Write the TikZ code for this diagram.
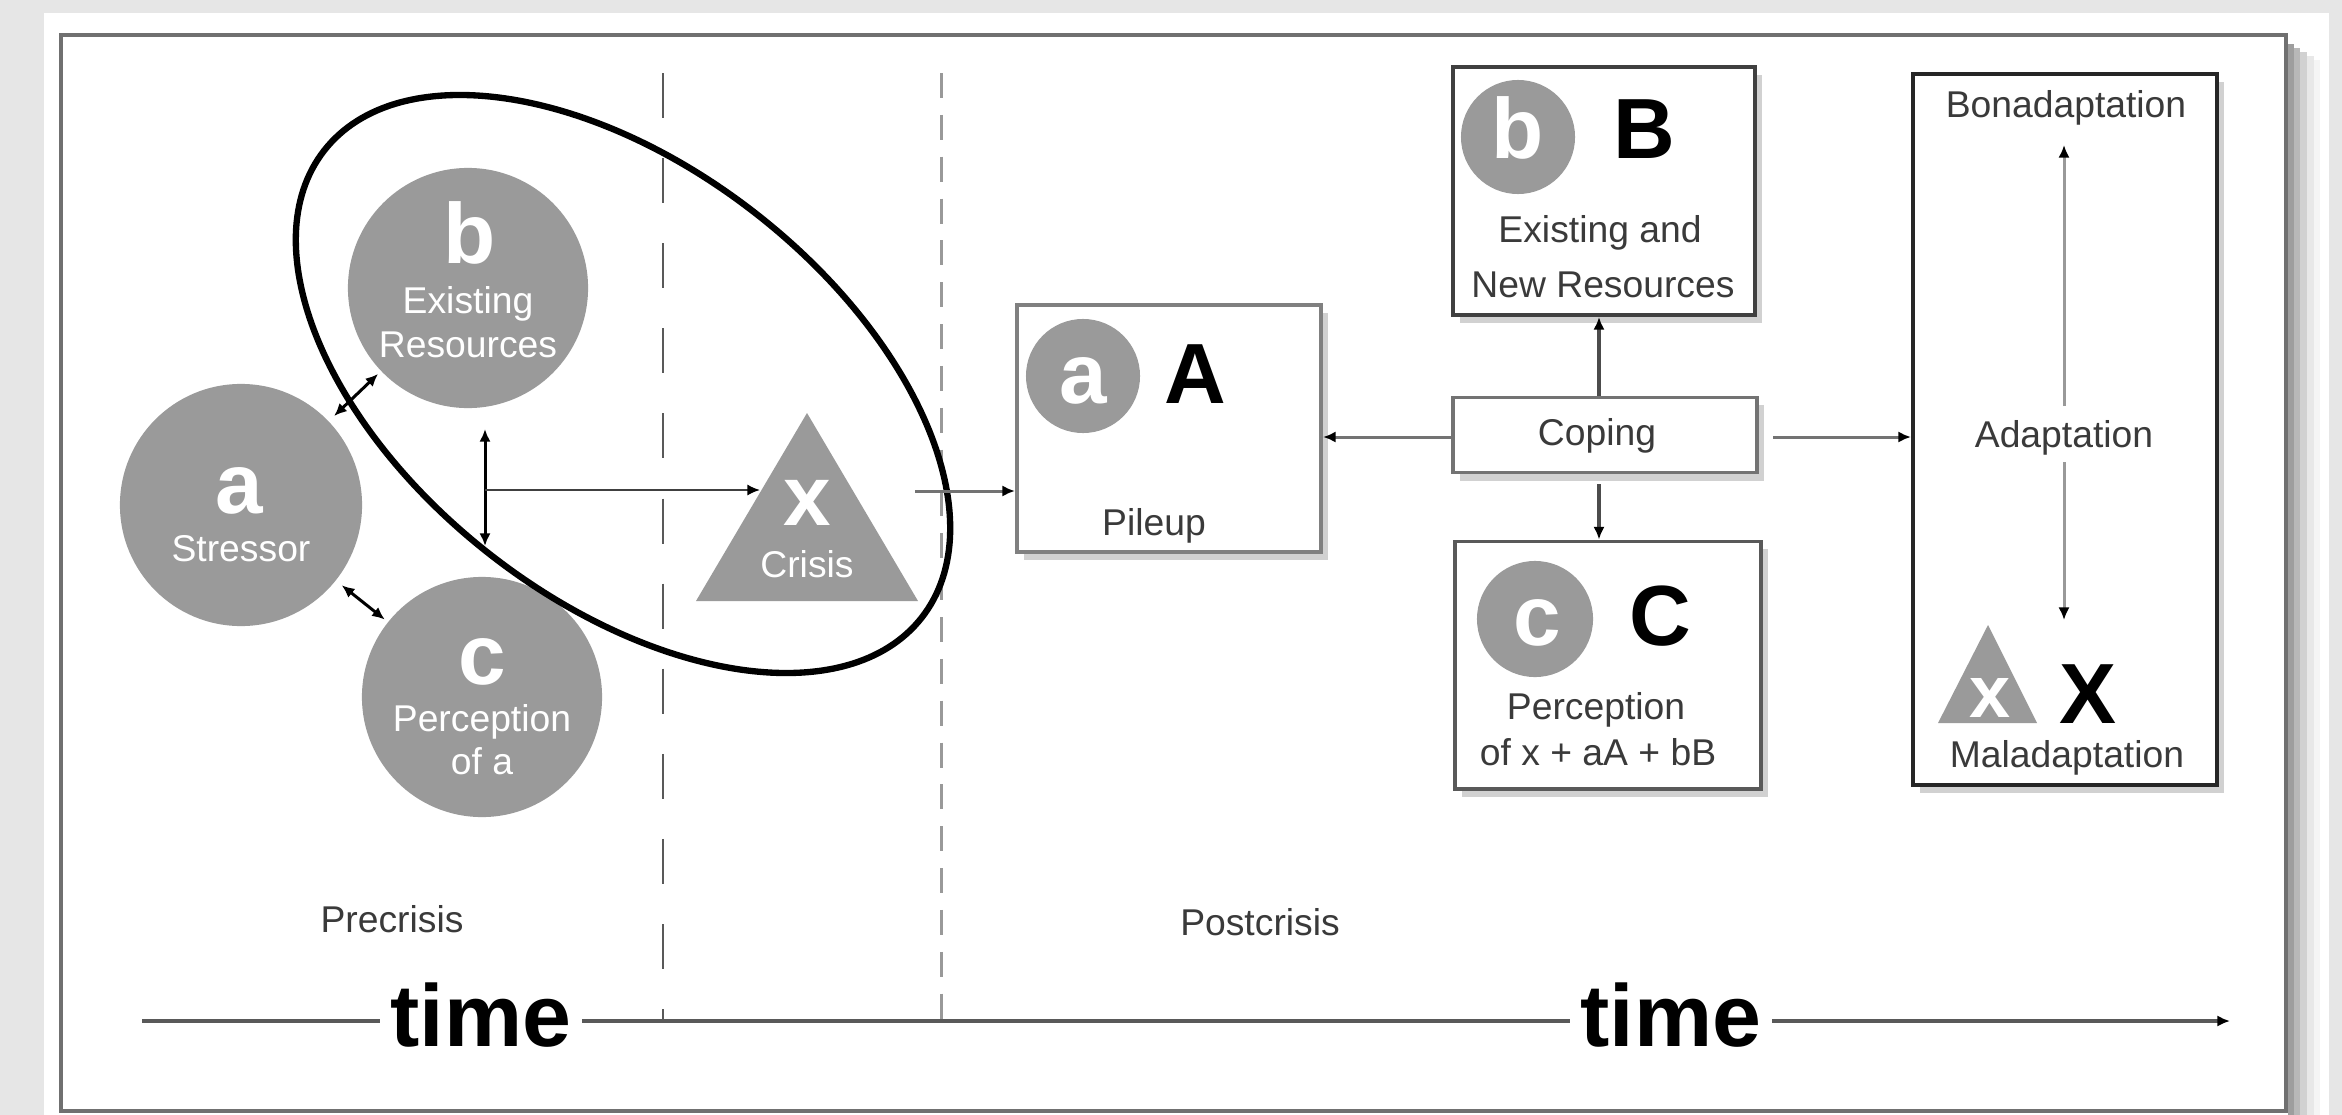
\documentclass[tikz,border=0pt]{standalone}
\usepackage{fontspec}
\setmainfont{Liberation Sans}
\usetikzlibrary{arrows.meta,shadows,calc}
\definecolor{bgc}{HTML}{E6E6E6}
\definecolor{cg}{HTML}{9A9A9A}
\definecolor{tg}{HTML}{3A3A3A}
\definecolor{fr}{HTML}{707070}
\newcommand\bigf{\fontsize{24.3}{28}\selectfont\bfseries}
\newcommand\smallbigf{\fontsize{21}{24}\selectfont\bfseries}
\newcommand\lblf{\fontsize{10.6}{12.7}\selectfont}
\newcommand\timef{\fontsize{25}{30}\selectfont\bfseries}
\begin{document}
\begin{tikzpicture}[x=0.01cm,y=-0.01cm,
  gcirc/.style={circle,fill=cg,draw=none,inner sep=0pt,minimum size=#1},
  bigw/.style={font=\bigf,text=white,anchor=base,inner sep=0pt},
  bigk/.style={font=\bigf,text=black,anchor=base,inner sep=0pt},
  lblw/.style={font=\lblf,text=white,anchor=base,inner sep=0pt},
  lbl/.style={font=\lblf,text=tg,anchor=base,inner sep=0pt},
  boxs/.style={rectangle,draw=#1,line width=1.1pt,fill=white,inner sep=0pt,
     drop shadow={shadow xshift=0.07cm,shadow yshift=-0.08cm,fill=black!18,opacity=1}},
  arrowone/.style={-{Latex[length=3.6pt,width=3.2pt,color=black]}},
  arrowtwo/.style={{Latex[length=3.6pt,width=3.2pt,color=black]}-{Latex[length=3.6pt,width=3.2pt,color=black]}},
  axisline/.style={black!65,line width=1.15pt},
]
% background and frame
\useasboundingbox (0,0) rectangle (2342,1115);
\fill[bgc] (0,0) rectangle (2342,1115);
\fill[white] (44,13) rectangle (2329,1115);
\fill[black!38] (2288,44) rectangle (2294,1115);
\fill[black!28] (2294,48) rectangle (2300,1115);
\fill[black!18] (2300,52) rectangle (2307,1115);
\fill[black!9] (2307,56) rectangle (2314,1115);
\fill[black!4] (2314,60) rectangle (2320,1115);
\draw[fr,line width=1.15pt] (61,35) rectangle (2286,1111);

% dashed period dividers
\draw[black!65,line width=0.6pt,dash pattern=on 12.8pt off 11.4pt] (663,73) -- (663,1021);
\draw[black!40,line width=0.85pt,dash pattern=on 7.1pt off 4.8pt] (941,73) -- (941,1021);

% precrisis circles
\node[gcirc=2.42cm] (ca) at (241,505) {};
\node[gcirc=2.40cm] (cb) at (468,288) {};
\node[gcirc=2.40cm] (cc) at (482,697) {};
\node[bigw] (la) at (239,513) {a};
\node[lblw] (la2) at (241,561) {Stressor};
\node[bigw] (lb) at (470,263) {b};
\node[lblw] (lb2) at (468,313) {Existing};
\node[lblw] (lb3) at (468,357) {Resources};
\node[bigw] (lc) at (482,684) {c};
\node[lblw] (lc2) at (482,731) {Perception};
\node[lblw] (lc3) at (482,774) {of a};

% crisis triangle
\fill[cg] (807,413) -- (918,601) -- (696,601) -- cycle;
\node[bigw] (lx) at (807,525) {x};
\node[lblw] (lx2) at (807,577) {Crisis};

% precrisis arrows
\coordinate (hub) at (485,490);
\coordinate (vtop) at (485,429);
\coordinate (vbot) at (485,546);
\coordinate (xin) at (760,490);
\draw[arrowtwo,black,line width=0.85pt,shorten <=2pt,shorten >=1pt] (ca) -- (cb);
\draw[arrowtwo,black,line width=0.85pt,shorten <=2pt,shorten >=1pt] (ca) -- (cc);
\draw[arrowtwo,black,line width=0.85pt] (vtop) -- (vbot);
\draw[arrowone,black!75,line width=0.6pt] (hub) -- (xin);

% ellipse
\draw[black,line width=1.8pt,rotate around={-38:(623,384)}] (623,384) ellipse [x radius=3.79cm,y radius=2.16cm];

% Pileup box
\node[boxs=black!50,minimum width=3.04cm,minimum height=2.47cm] (pile) at (1169,428.5) {};
\node[gcirc=1.14cm] (pa) at (1083,376) {};
\node[bigw] (pal) at (1083,403) {a};
\node[bigk] (pA) at (1195,403) {A};
\node[lbl] (pl) at (1154,535) {Pileup};

% B box
\node[boxs=black!75,minimum width=3.02cm,minimum height=2.48cm] (bbox) at (1604,191) {};
\node[gcirc=1.14cm] (bc) at (1518,137) {};
\node[bigw] (bcl) at (1518,158) {b};
\node[bigk] (bB) at (1644,158) {B};
\node[lbl] (bl1) at (1600,242) {Existing and};
\node[lbl] (bl2) at (1603,297) {New Resources};

% Coping box
\node[boxs=black!55,minimum width=3.04cm,minimum height=0.75cm] (cope) at (1605,435) {};
\node[lbl] (copl) at (1597,445) {Coping};

% C box
\node[boxs=black!65,minimum width=3.06cm,minimum height=2.47cm] (cbox) at (1608,665) {};
\node[gcirc=1.16cm] (ccc) at (1535,619) {};
\node[bigw] (ccl) at (1537,645) {c};
\node[bigk] (cC) at (1660,645) {C};
\node[lbl] (cl1) at (1596,719) {Perception};
\node[lbl] (cl2) at (1598,765) {of x + aA + bB};

% Adaptation box
\node[boxs=black!85,minimum width=3.04cm,minimum height=7.11cm] (abox) at (2065,429.5) {};
\node[lbl] (bona) at (2066,117) {Bonadaptation};
\node[lbl] (adap) at (2064,447) {Adaptation};
\node[lbl] (mala) at (2067,767) {Maladaptation};
\fill[cg] (1988,625) -- (2037,723) -- (1938,723) -- cycle;
\node[font=\smallbigf,text=white,anchor=base,inner sep=0pt] (smx) at (1990,717) {x};
\node[bigk] (bigX) at (2088,723) {X};
\coordinate (a1) at (2064,406);
\coordinate (a1t) at (2064,145);
\coordinate (a2) at (2064,462);
\coordinate (a2t) at (2064,620);
\draw[arrowone,black!40,line width=0.85pt] (a1) -- (a1t);
\draw[arrowone,black!40,line width=0.85pt] (a2) -- (a2t);

% postcrisis connectors
\coordinate (xout) at (915,491);
\draw[arrowone,black!55,line width=0.85pt] (xout) -- (xout -| pile.west);
\draw[arrowone,black!55,line width=0.85pt] ([yshift=-0.02cm]cope.west) -- ([yshift=-0.02cm]cope.west -| pile.east);
\draw[arrowone,black!70,line width=1.3pt] ([xshift=-0.06cm]cope.north) -- ([xshift=-0.06cm]cope.north |- bbox.south);
\draw[arrowone,black!70,line width=1.3pt,shorten <=0.1cm] ([xshift=-0.06cm]cope.south) -- ([xshift=-0.06cm]cope.south |- cbox.north);
\draw[arrowone,black!55,line width=0.85pt,shorten <=0.14cm] ([yshift=-0.02cm]cope.east) -- ([yshift=-0.02cm]cope.east -| abox.west);

% period labels
\node[lbl] (pre) at (392,932) {Precrisis};
\node[lbl] (post) at (1260,935) {Postcrisis};

% time axis
\node[font=\timef,anchor=base,inner xsep=0.1cm,inner ysep=0pt] (t1) at (481,1046) {time};
\node[font=\timef,anchor=base,inner xsep=0.1cm,inner ysep=0pt] (t2) at (1671,1046) {time};
\coordinate (ts) at (142,1021);
\coordinate (te) at (2230,1021);
\draw[axisline] (ts) -- (ts -| t1.west);
\draw[axisline] (t1.east |- ts) -- (t2.west |- ts);
\draw[axisline,arrowone] (t2.east |- ts) -- (te);
\end{tikzpicture}
\end{document}
